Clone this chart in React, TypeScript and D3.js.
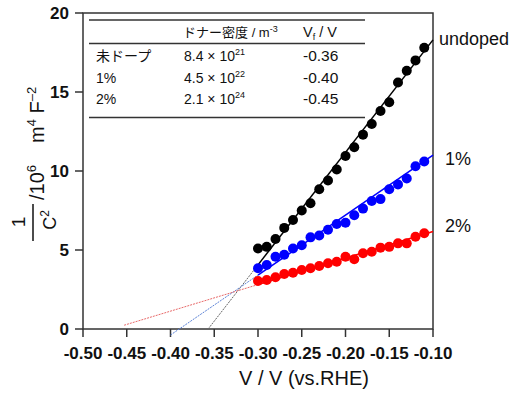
import React from "react";
import * as d3 from "d3";

const voltages = [-0.30, -0.29, -0.28, -0.27, -0.26, -0.25, -0.24, -0.23, -0.22, -0.21, -0.20, -0.19, -0.18, -0.17, -0.16, -0.15, -0.14, -0.13, -0.12, -0.11];
const undoped = [5.1, 5.2, 5.7, 6.4, 6.9, 7.5, 7.96, 8.84, 9.4, 10.1, 10.95, 11.5, 12.3, 12.97, 13.8, 14.35, 15.6, 16.35, 17.0, 17.8];
const doped1 = [3.85, 4.05, 4.57, 4.7, 5.1, 5.3, 5.8, 5.92, 6.28, 6.65, 6.72, 7.2, 7.62, 8.1, 8.22, 8.84, 9.15, 9.53, 10.3, 10.6];
const doped2 = [3.04, 3.1, 3.27, 3.48, 3.56, 3.73, 3.84, 3.99, 4.16, 4.26, 4.57, 4.41, 4.79, 4.89, 5.15, 5.2, 5.42, 5.42, 5.84, 6.06];

// fit lines: dotted extrapolation start (x0,y0), solid from -0.30 to -0.10 ending at y1
const fitX0 = [-0.357, -0.40, -0.453];
const fitY0 = [0, -0.38, 0.24];
const fitY1 = [18.3, 11.0, 6.17];
const seriesNames = ["undoped", "1%", "2%"];

const xTicks = [-0.5, -0.45, -0.4, -0.35, -0.3, -0.25, -0.2, -0.15, -0.1];
const yTicks = [0, 5, 10, 15, 20];

const tableRows = ["未ドープ", "1%", "2%"];
const tableMantissa = ["8.4", "4.5", "2.1"];
const tableExp = ["21", "22", "24"];
const tableVf = ["-0.36", "-0.40", "-0.45"];

const colors = ["#000000", "#0000ff", "#ff0000"];
const dotColors = ["#666666", "#5b82d6", "#e86a6a"];
const labelY = [45, 165, 232];

export default function App() {
  const x = d3.scaleLinear().domain([-0.5, -0.1]).range([83, 433]);
  const y = d3.scaleLinear().domain([0, 20]).range([329, 13]);
  const series = [undoped, doped1, doped2];
  const line = d3
    .line<[number, number]>()
    .x((d) => x(d[0]))
    .y((d) => y(d[1]));
  const font = "Arial, 'Liberation Sans', sans-serif";
  const jp = "'Noto Sans CJK JP', Arial, sans-serif";
  const axisColor = "#333";

  return (
    <svg width={513} height={394} style={{ position: "absolute", left: 0, top: 0, background: "#fff" }} fontFamily={font}>
      {/* frame */}
      <rect x={x(-0.5)} y={y(20)} width={x(-0.1) - x(-0.5)} height={y(0) - y(20)} fill="none" stroke={axisColor} strokeWidth={1.5} />
      {/* y ticks */}
      {yTicks.map((t) => (
        <g key={"y" + t}>
          <line x1={x(-0.5) - 8} x2={x(-0.5)} y1={y(t)} y2={y(t)} stroke={axisColor} strokeWidth={1.5} />
          <text x={69} y={y(t) + 6} textAnchor="end" fontSize={17} fontWeight="bold" fill="#111">
            {t}
          </text>
        </g>
      ))}
      {/* x ticks */}
      {xTicks.map((t) => (
        <g key={"x" + t}>
          <line x1={x(t)} x2={x(t)} y1={y(0)} y2={y(0) + 8} stroke={axisColor} strokeWidth={1.5} />
          <text x={x(t)} y={358.5} textAnchor="middle" fontSize={17} fontWeight="bold" fill="#111">
            {t.toFixed(2)}
          </text>
        </g>
      ))}
      {/* x title */}
      <text x={304} y={385} textAnchor="middle" fontSize={20} fill="#111">
        V / V (vs.RHE)
      </text>
      {/* y title */}
      <g transform="rotate(-90)">
        <text x={-222} y={25} textAnchor="middle" fontSize={19} fill="#111">1</text>
        <line x1={-241} x2={-204} y1={33} y2={33} stroke="#111" strokeWidth={1.5} />
        <text x={-220} y={56} textAnchor="middle" fontSize={18} fill="#111">
          C<tspan fontSize={12} dy={-7}>2</tspan>
        </text>
        <text x={-200} y={44} fontSize={20} fill="#111">
          /10<tspan fontSize={13} dy={-8}>6</tspan>
        </text>
        <text x={-143} y={44} fontSize={20} fill="#111">
          m<tspan fontSize={13} dy={-8}>4</tspan>
          <tspan dy={8}> F</tspan>
          <tspan fontSize={13} dy={-8}>–2</tspan>
        </text>
      </g>
      {/* fit lines */}
      {series.map((s, i) => {
        const slope = (fitY1[i] - fitY0[i]) / (-0.1 - fitX0[i]);
        const yAt = (v: number) => fitY0[i] + slope * (v - fitX0[i]);
        const dotted: [number, number][] = [
          [fitX0[i], fitY0[i]],
          [-0.3, yAt(-0.3)],
        ];
        const solid: [number, number][] = [
          [-0.3, yAt(-0.3)],
          [-0.1, fitY1[i]],
        ];
        return (
          <g key={"fit" + i}>
            <path d={line(dotted) || ""} fill="none" stroke={dotColors[i]} strokeWidth={1} strokeDasharray="2,1" />
            <path d={line(solid) || ""} fill="none" stroke={colors[i]} strokeWidth={1.5} />
          </g>
        );
      })}
      {/* points */}
      {series.map((s, i) => (
        <g key={"pts" + i}>
          {s.map((v, j) => (
            <circle key={j} cx={x(voltages[j])} cy={y(v)} r={5} fill={colors[i]} />
          ))}
        </g>
      ))}
      {/* series labels */}
      {seriesNames.map((n, i) => (
        <text key={n} x={i === 0 ? 439 : 445} y={labelY[i]} fontSize={18} fill="#111">
          {n}
        </text>
      ))}
      {/* table */}
      <g>
        <line x1={89} x2={365} y1={20} y2={20} stroke={axisColor} strokeWidth={1.5} />
        <line x1={89} x2={365} y1={43.5} y2={43.5} stroke={axisColor} strokeWidth={1.5} />
        <line x1={89} x2={365} y1={117.5} y2={117.5} stroke={axisColor} strokeWidth={1.5} />
        <text x={183} y={37} fontSize={13} fill="#111" fontFamily={jp}>
          ドナー密度<tspan fontFamily={font}> / m</tspan>
          <tspan fontFamily={font} fontSize={9} dy={-5}>-3</tspan>
        </text>
        <text x={303} y={37} fontSize={14.5} fill="#111">
          V<tspan fontSize={9} dy={3}>f</tspan>
          <tspan dy={-3}> / V</tspan>
        </text>
        {tableRows.map((r, i) => {
          const by = [61, 83, 104][i];
          return (
            <g key={r}>
              <text x={96} y={by} fontSize={14} fill="#111" fontFamily={i === 0 ? jp : font}>
                {r}
              </text>
              <text x={184} y={by} fontSize={14} fill="#111">
                {tableMantissa[i]} × 10<tspan fontSize={9} dy={-6}>{tableExp[i]}</tspan>
              </text>
              <text x={303} y={by} fontSize={15.5} fill="#111">
                {tableVf[i]}
              </text>
            </g>
          );
        })}
      </g>
    </svg>
  );
}
